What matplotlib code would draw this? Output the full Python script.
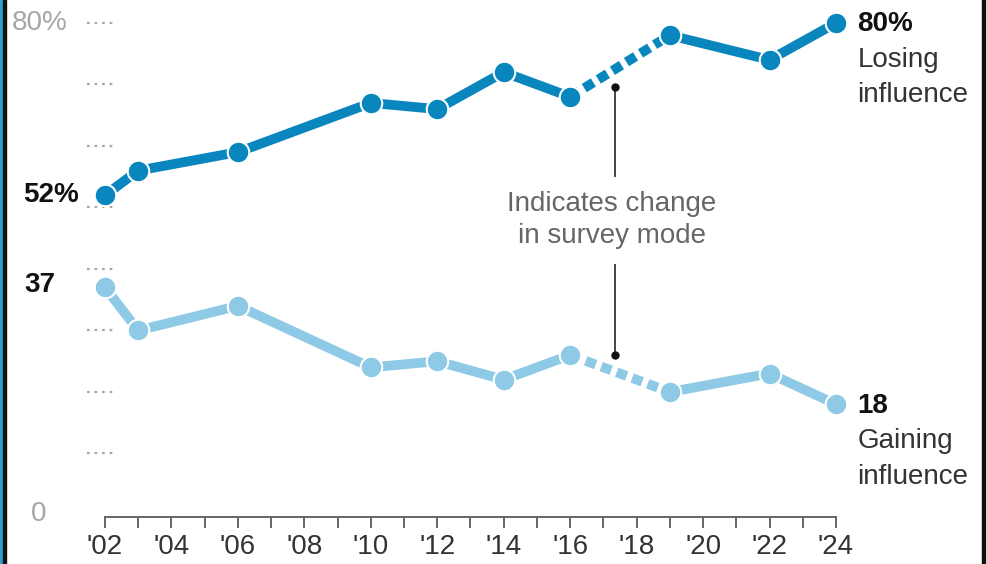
import matplotlib
matplotlib.use("Agg")
import matplotlib.pyplot as plt
from matplotlib.patches import Rectangle

plt.rcParams['font.family'] = ['Liberation Sans', 'DejaVu Sans']

# data
years_pre = [2002, 2003, 2006, 2010, 2012, 2014, 2016]
years_post = [2019, 2022, 2024]
losing_pre = [52, 56, 59, 67, 66, 72, 68]
losing_post = [78, 74, 80]
gaining_pre = [37, 30, 34, 24, 25, 22, 26]
gaining_post = [20, 23, 18]
grid_vals = [10, 20, 30, 40, 50, 60, 70, 80]
xtick_years = list(range(2002, 2025, 2))
xtick_labels = ["'%02d" % (y % 100) for y in xtick_years]

dark = "#0a86bf"
light = "#8ecae6"


def main():
    fig = plt.figure(figsize=(9.86, 5.64), dpi=100)
    ax = fig.add_axes([0, 0, 1, 1])
    ax.set_xlim(1998.84, 2028.515)
    ax.set_ylim(-7.97, 83.74)
    ax.axis("off")

    # frame edges
    fig.patches.append(Rectangle((0, 0), 3 / 986, 1, transform=fig.transFigure, color="#2e9fd0", zorder=10))
    fig.patches.append(Rectangle((3 / 986, 0), 3 / 986, 1, transform=fig.transFigure, color="#111111", zorder=10))
    fig.patches.append(Rectangle((982 / 986, 0), 4 / 986, 1, transform=fig.transFigure, color="#111111", zorder=10))

    # short dotted gridline stubs
    for v in grid_vals:
        ax.plot([2001.47, 2002.25], [v, v], color="#a8a8a8", lw=1.6, ls=(0, (1.2, 2.2)), zorder=1)
    ax.text(2000.88, 80, "80%", ha="right", va="center", fontsize=20, color="#a6a6a6")
    ax.text(2000.25, 0.1, "0", ha="right", va="center", fontsize=20, color="#a6a6a6")

    # x axis
    ax.plot([2002, 2024], [-0.3, -0.3], color="#666666", lw=1.4, clip_on=False)
    for y in range(2002, 2025):
        ax.plot([y, y], [-0.3, -2.0], color="#666666", lw=1.4, clip_on=False)
    for y, lab in zip(xtick_years, xtick_labels):
        ax.text(y, -5.2, lab, ha="center", va="center", fontsize=20, color="#333333")

    # lines
    for col, pre, post in [(dark, losing_pre, losing_post), (light, gaining_pre, gaining_post)]:
        ax.plot(years_pre, pre, color=col, lw=7, solid_capstyle="round", zorder=3)
        ax.plot([years_pre[-1], years_post[0]], [pre[-1], post[0]], color=col, lw=7,
                ls=(0, (1.1, 0.6)), dash_capstyle="butt", zorder=3)
        ax.plot(years_post, post, color=col, lw=7, solid_capstyle="round", zorder=3)
        ax.plot(years_pre + years_post, pre + post, ls="none", marker="o", ms=15.5,
                mfc=col, mec="white", mew=1.5, zorder=4)

    # annotation
    xa = 2017.35
    ax.plot([xa, xa], [69.6, 55.2], color="#444444", lw=1.4, zorder=2)
    ax.plot([xa, xa], [40.6, 26.0], color="#444444", lw=1.4, zorder=2)
    ax.plot([xa, xa], [69.6, 26.0], ls="none", marker="o", ms=5, color="#111111", zorder=2)
    ax.text(xa - 0.1, 47.9, "Indicates change\nin survey mode", ha="center", va="center",
            fontsize=20, color="#666666", linespacing=1.3)

    # end labels
    ax.text(2001.2, 52, "52%", ha="right", va="center", fontsize=20, fontweight="bold", color="#111111")
    ax.text(2000.5, 37.4, "37", ha="right", va="center", fontsize=20, fontweight="bold", color="#111111")
    ax.text(2024.65, 79.8, "80%", ha="left", va="center", fontsize=20, fontweight="bold", color="#111111")
    ax.text(2024.65, 74.0, "Losing", ha="left", va="center", fontsize=20, color="#333333")
    ax.text(2024.65, 68.3, "influence", ha="left", va="center", fontsize=20, color="#333333")
    ax.text(2024.65, 17.7, "18", ha="left", va="center", fontsize=20, fontweight="bold", color="#111111")
    ax.text(2024.65, 12.0, "Gaining", ha="left", va="center", fontsize=20, color="#333333")
    ax.text(2024.65, 6.2, "influence", ha="left", va="center", fontsize=20, color="#333333")

    fig.savefig("out.png", dpi=100)


if __name__ == "__main__":
    main()
